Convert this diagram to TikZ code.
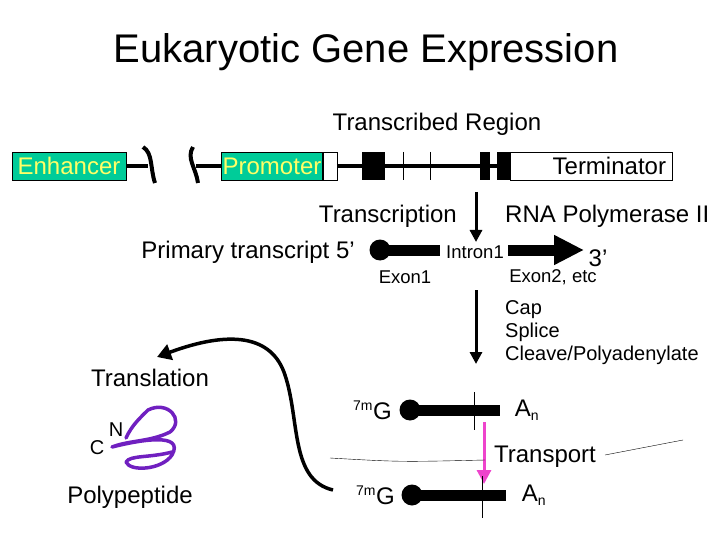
\documentclass[tikz,border=0pt]{standalone}
\usepackage{fontspec}
\setmainfont{Liberation Sans}
\usetikzlibrary{arrows.meta, positioning, shapes}
\definecolor{teal}{RGB}{0,204,153}
\definecolor{yel}{RGB}{255,255,102}
\definecolor{pink}{RGB}{238,68,204}
\definecolor{purp}{RGB}{112,32,192}
\tikzset{
  txt/.style   = {inner sep=0pt, font=\fontsize{24}{24}\selectfont},
  small/.style = {inner sep=0pt, font=\fontsize{18.5}{18.5}\selectfont},
  box/.style   = {draw, fill=teal, minimum height=28pt, inner sep=1pt, text=yel, font=\fontsize{24}{24}\selectfont},
  dna/.style   = {line width=4pt},
  rna/.style   = {line width=11pt},
  capdot/.style = {circle, fill, minimum size=21pt, inner sep=0pt},
  blk/.style   = {fill, minimum height=28pt, inner sep=0pt},
}
\begin{document}
\begin{tikzpicture}[x=1pt, y=-1pt]
\useasboundingbox (0,0) rectangle (720,540);

% title
\node [inner sep=0pt, font=\fontsize{40}{40}\selectfont] (title) at (366,52) {Eukaryotic Gene Expression};

% gene
\node [txt] (region) at (437,124) {Transcribed Region};
\node [box, minimum width=114pt] (enh) at (69,166) {Enhancer};
\node [box, minimum width=100pt] (pro) at (272,166) {Promoter};
\node [draw, fill=white, minimum width=14pt, minimum height=28pt, inner sep=0pt, anchor=west] (pw) at (pro.east) {};
\node [draw, fill=white, minimum width=162pt, minimum height=28pt, inner sep=0pt] (term) at (591,166) {};
\node [txt, anchor=east] at ([xshift=-6pt]term.east) {Terminator};
\coordinate (br1) at (148,166);
\coordinate (br2) at (196,166);
\draw [dna] (enh.east) -- (br1);
\draw [dna] (br2) -- (pro.west);
\draw [dna] (143,147) .. controls (153,153) and (150,168) .. (155,183);
\draw [dna] (193,147) .. controls (186,158) and (196,168) .. (198,183);
\draw [dna] (pw.east) -- (term.west);
\node [blk, minimum width=23pt] (ex1) at (373,166) {};
\node [blk, minimum width=10pt] (ex2) at (485,166) {};
\node [blk, minimum width=13pt] (ex3) at (503,166) {};
\draw [thick] (403,152) -- (403,180);
\draw [thick] (430,152) -- (430,180);

% transcription
\coordinate (t1) at (476,192);
\coordinate (t2) at (476,242);
\draw [line width=3pt, -{Triangle[length=12pt, width=12pt]}] (t1) -- (t2);
\node [txt, anchor=east] (trn) at (457,216) {Transcription};
\node [txt, anchor=west] (pol) at (505,216) {RNA Polymerase II};
\node [txt, anchor=east] (prim) at (355,252) {Primary transcript 5’};
\node [capdot] (c0) at (380,250) {};
\node [small] (intr) at (475,252) {Intron1};
\coordinate (b0) at (440,250);
\coordinate (b1) at (508,250);
\coordinate (b2) at (584,250);
\draw [rna] (c0.center) -- (b0);
\draw [rna, -{Triangle[length=30pt, width=28pt]}] (b1) -- (b2);
\node [txt] (three) at (598,258) {3’};
\node [small] (e1) at (405,277) {Exon1};
\node [small] (e2) at (553,277) {Exon2, etc};

% processing
\coordinate (p1) at (476,290);
\coordinate (p2) at (476,364);
\draw [line width=3pt, -{Triangle[length=12pt, width=12pt]}] (p1) -- (p2);
\node [small, font=\fontsize{20}{20}\selectfont, anchor=west, align=left] (steps) at (505,333) {Cap\\[3pt]Splice\\[3pt]Cleave/Polyadenylate};

% mature mRNA
\node [txt, anchor=east] (g1) at (392,410) {\textsuperscript{\fontsize{14}{14}\selectfont 7m}G};
\node [capdot] (c1) at (410,410) {};
\coordinate (m1) at (500,410);
\draw [rna] (c1.center) -- (m1);
\draw [thin] (474,392) -- (474,430);
\node [txt] (a1) at (527,410) {A\textsubscript{\fontsize{14}{14}\selectfont n}};

% transport
\coordinate (k1) at (484,422);
\coordinate (k2) at (484,484);
\draw [line width=3pt, pink, -{Triangle[length=14pt, width=14pt]}] (k1) -- (k2);
\node [txt] (tr) at (545,457) {Transport};
\draw (330,458) .. controls (400,462) .. (485,460);
\draw (605,455) -- (683,440);

\node [txt, anchor=east] (g2) at (395,495) {\textsuperscript{\fontsize{14}{14}\selectfont 7m}G};
\node [capdot] (c2) at (412,495) {};
\coordinate (m2) at (506,495);
\draw [rna] (c2.center) -- (m2);
\draw [thin] (482,476) -- (482,518);
\node [txt] (a2) at (534,495) {A\textsubscript{\fontsize{14}{14}\selectfont n}};

% translation
\node [txt] (tl) at (150,378) {Translation};
\coordinate (s0) at (333,490);
\coordinate (s1) at (157,357);
\draw [line width=3.5pt, -{Triangle[length=14pt, width=16pt]}] (s0)
  .. controls (290,480) and (300,420) .. (285,375)
  .. controls (272,335) and (230,330) .. (s1);

% polypeptide
\node [txt, font=\fontsize{20}{20}\selectfont] (nt) at (116,430) {N};
\node [txt, font=\fontsize{20}{20}\selectfont] (ct) at (97,448) {C};
\draw [line width=3.5pt, purp, line cap=round, line join=round] (126,438)
  .. controls (132,425) and (140,418) .. (148,410)
  .. controls (168,400) and (185,420) .. (170,432)
  .. controls (150,442) and (130,440) .. (112,447)
  .. controls (140,440) and (185,432) .. (172,455)
  .. controls (162,470) and (130,472) .. (126,462)
  .. controls (130,455) and (150,458) .. (172,452);
\node [txt] (poly) at (130,497) {Polypeptide};
\end{tikzpicture}
\end{document}
